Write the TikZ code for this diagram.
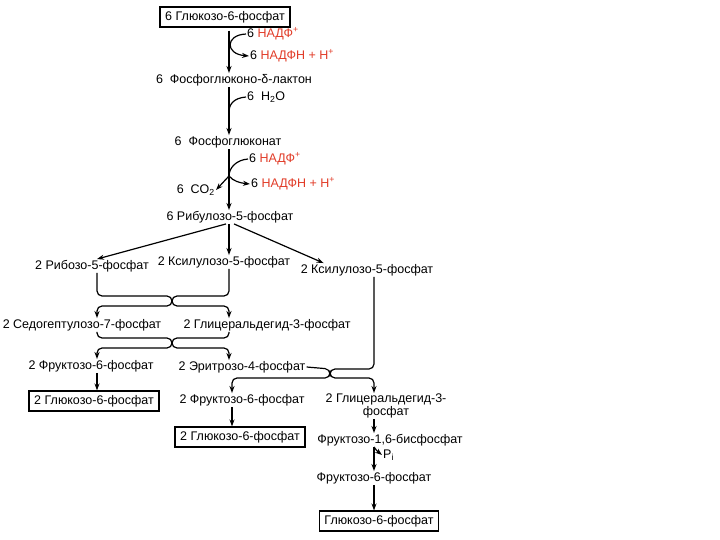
\documentclass[tikz,border=0pt]{standalone}
\usepackage{fontspec}
\setmainfont{Liberation Sans}
\usetikzlibrary{arrows.meta,calc}
\definecolor{nred}{RGB}{225,60,40}
\begin{document}
\begin{tikzpicture}[x=1pt,y=-1pt,
  lbl/.style={font=\fontsize{12.5}{14}\selectfont, inner sep=1pt, text height=9pt, text depth=2.5pt},
  boxed/.style={lbl, draw, line width=1.6pt, inner xsep=5pt, inner ysep=4pt},
  ln/.style={line width=1.2pt},
  arr/.style={ln, -{Stealth[length=7pt,width=5pt]}},
  rc/.style={rounded corners=5pt}
]
\useasboundingbox (0,0) rectangle (720,540);
% x-positions of the vertical lines
\coordinate (xm) at (229,0);
\coordinate (xl) at (97,0);
\coordinate (xb) at (232,0);
\coordinate (xr) at (374,0);

% nodes
\node[boxed] (g1) at (225,17) {6 Глюкозо-6-фосфат};
\node[lbl,anchor=west] (n1) at (246,34) {6 \textcolor{nred}{НАДФ\textsuperscript{+}}};
\node[lbl,anchor=west] (nh1) at (249,56) {6 \textcolor{nred}{НАДФН + Н\textsuperscript{+}}};
\node[lbl] (lac) at (234,80) {6\ \ Фосфоглюконо-δ-лактон};
\node[lbl,anchor=west] (h2o) at (246,97) {6\ \ H\textsubscript{2}O};
\node[lbl] (pg) at (228,142) {6\ \ Фосфоглюконат};
\node[lbl,anchor=west] (n2) at (248,159) {6 \textcolor{nred}{НАДФ\textsuperscript{+}}};
\node[lbl,anchor=west] (nh2) at (250,184) {6 \textcolor{nred}{НАДФН + Н\textsuperscript{+}}};
\node[lbl,anchor=east] (co2) at (216,190) {6\ \ CO\textsubscript{2}};
\node[lbl] (ru) at (230,217) {6 Рибулозо-5-фосфат};
\node[lbl] (r5p) at (92,266) {2 Рибозо-5-фосфат};
\node[lbl] (x5pa) at (224,262) {2 Ксилулозо-5-фосфат};
\node[lbl] (x5pb) at (367,270) {2 Ксилулозо-5-фосфат};
\node[lbl] (s7p) at (82,325) {2 Седогептулозо-7-фосфат};
\node[lbl] (ga3pa) at (267,325) {2 Глицеральдегид-3-фосфат};
\node[lbl] (f6pa) at (91,366) {2 Фруктозо-6-фосфат};
\node[lbl] (e4p) at (242,367) {2 Эритрозо-4-фосфат};
\node[boxed] (g6pa) at (94,401) {2 Глюкозо-6-фосфат};
\node[lbl] (f6pb) at (242,400) {2 Фруктозо-6-фосфат};
\node[lbl,align=center,anchor=north,text height=,text depth=,font=\fontsize{12.5}{10}\selectfont] (ga3pb) at (386,393) {2 Глицеральдегид-3-\\фосфат};
\node[boxed] (g6pb) at (240,437) {2 Глюкозо-6-фосфат};
\node[lbl] (f16bp) at (390,440) {Фруктозо-1,6-бисфосфат};
\node[lbl,anchor=west] (pi) at (382,455) {P\textsubscript{i}};
\node[lbl] (f6pc) at (374,478) {Фруктозо-6-фосфат};
\node[boxed] (g6pc) at (379,521) {Глюкозо-6-фосфат};

% junction points
\coordinate (j2) at (229,176);
\coordinate (jp) at (374,447);

% oxidative part
\draw[arr,shorten <=3pt] (g1.south -| xm) -- (lac.north -| xm);
\draw[arr] (n1.west) .. controls (225,35) and (225,54) .. (nh1.west);
\draw[arr] (lac.south -| xm) -- (pg.north -| xm);
\draw[ln] (h2o.west) .. controls (234,98) and (229,104) .. (229,112);
\draw[arr] (pg.south -| xm) -- (ru.north -| xm);
\draw[ln] (n2.west) .. controls (236,160) and (229,168) .. (j2);
\draw[arr] (j2) .. controls (233,181) and (240,183) .. (nh2.west);
\draw[arr] (j2) -- (co2.east);

% branching
\draw[arr] ($(ru.south)+(-4,0)$) -- (r5p.north -| xl);
\draw[arr] (ru.south -| xm) -- (x5pa.north -| xm);
\draw[arr] ($(ru.south)+(4,0)$) -- ($(x5pb.north west)+(24,0)$);

% first crossing
\draw[arr,rc] (r5p.south -| xl) -- (97,296) -- (172,296) -- (172,306) -- (97,306) -- (s7p.north -| xl);
\draw[arr,rc] (x5pa.south -| xm) -- (229,296) -- (172,296) -- (172,306) -- (229,306) -- (ga3pa.north -| xm);

% second crossing
\draw[arr,rc] (s7p.south -| xl) -- (97,338) -- (172,338) -- (172,348) -- (97,348) -- (f6pa.north -| xl);
\draw[arr,rc] (ga3pa.south -| xm) -- (229,338) -- (172,338) -- (172,348) -- (229,348) -- (e4p.north -| xm);

% third crossing
\draw[arr,rc] (x5pb.south -| xr) -- (374,369) -- (330,369) -- (330,378) -- (374,378) -- (ga3pb.north -| xr);
\draw[arr,rc] (e4p.east) -- (330,369) -- (330,378) -- (232,378) -- (f6pb.north -| xb);

% lower arrows
\draw[arr] (f6pa.south -| xl) -- (g6pa.north -| xl);
\draw[arr] (f6pb.south -| xb) -- (g6pb.north -| xb);
\draw[arr] (ga3pb.south -| xr) -- (f16bp.north -| xr);
\draw[arr] (f16bp.south -| xr) -- (f6pc.north -| xr);
\draw[arr] (jp) .. controls (377,451) .. (pi.west);
\draw[arr] (f6pc.south -| xr) -- (g6pc.north -| xr);
\end{tikzpicture}
\end{document}
